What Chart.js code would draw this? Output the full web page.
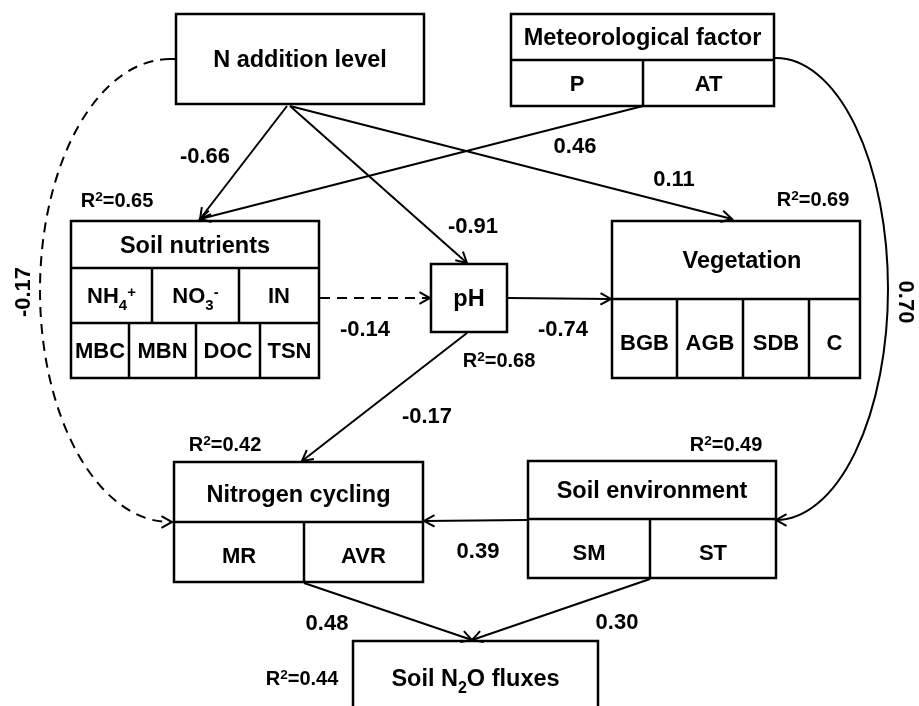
<!DOCTYPE html>
<html>
<head>
<meta charset="utf-8">
<title>Structural equation model of soil N2O fluxes</title>
<script src="https://cdn.jsdelivr.net/npm/chart.js@4.4.1/dist/chart.umd.min.js"></script>
<style>
  html, body { margin: 0; padding: 0; background: #ffffff; }
  canvas { display: block; }
</style>
</head>
<body>
<canvas id="sem" width="919" height="706"></canvas>
<script>
// ---- Model content -------------------------------------------------------
// "_x" marks a subscript character, "^x" a superscript character.
const nodeNames = [
  'N addition level',       // 0
  'Meteorological factor',  // 1
  'Soil nutrients',         // 2
  'pH',                     // 3
  'Vegetation',             // 4
  'Nitrogen cycling',       // 5
  'Soil environment',       // 6
  'Soil N_2O fluxes'        // 7
];

// Observed indicators of each latent variable, one list per row of cells
const nodeIndicators = [
  [],
  [['P', 'AT']],
  [['NH_4^+', 'NO_3^-', 'IN'], ['MBC', 'MBN', 'DOC', 'TSN']],
  [],
  [['BGB', 'AGB', 'SDB', 'C']],
  [['MR', 'AVR']],
  [['SM', 'ST']],
  []
];

// Explained variance of the endogenous variables
const rSquared = [null, null, 0.65, 0.68, 0.69, 0.42, 0.49, 0.44];

// Standardised path coefficients
const pathFrom = [0, 1, 0, 0, 2, 3, 3, 0, 1, 6, 5, 6];
const pathTo   = [2, 2, 4, 3, 3, 4, 5, 5, 6, 5, 7, 7];
const pathCoef = [-0.66, 0.46, 0.11, -0.91, -0.14, -0.74, -0.17, -0.17, 0.70, 0.39, 0.48, 0.30];
const pathSignificant = [true, true, true, true, false, true, true, false, true, true, true, true];

// ---- Diagram layout (in axis units) --------------------------------------
// rows: horizontal borders of the box; cols: vertical borders of each indicator row
const nodeLayout = [
  { x0: 176, x1: 424, rows: [14, 104] },
  { x0: 511, x1: 774, rows: [14, 60, 106], cols: [[511, 643, 774]] },
  { x0: 71,  x1: 319, rows: [221, 268, 323, 378], cols: [[71, 152, 239, 319], [71, 129, 196, 260, 319]] },
  { x0: 431, x1: 507, rows: [264, 332] },
  { x0: 612, x1: 860, rows: [221, 299, 378], cols: [[612, 677, 743, 809, 860]], headDx: 6, cellDy: 4 },
  { x0: 174, x1: 423, rows: [462, 522, 582], cols: [[174, 304, 423]], headDy: 2, cellDy: 3 },
  { x0: 528, x1: 776, rows: [461, 519, 578], cols: [[528, 650, 776]], cellDy: 4 },
  { x0: 353, x1: 598, rows: [641, 714] }
];

const r2Layout = [null, null, [117, 200], [499, 360], [813, 199], [225, 444], [726, 444], [302, 678]];

const pathLayout = [
  { from: [287, 106], to: [200, 219], label: [205, 155] },
  { from: [643, 106], to: [200, 219], label: [575, 145] },
  { from: [290, 106], to: [732, 219], label: [674, 178] },
  { from: [290, 106], to: [467, 263], label: [473, 225] },
  { from: [320, 298], to: [430, 298], label: [365, 328] },
  { from: [508, 298], to: [611, 299], label: [563, 328] },
  { from: [467, 333], to: [302, 461], label: [427, 415] },
  { ellipse: [170, 290.5, 130, 231.5], side: 'left', stub: 176, label: [22, 292], rotate: -90 },
  { ellipse: [776, 289, 112, 231], side: 'right', stub: 774, label: [907, 302], rotate: 90 },
  { from: [527, 520], to: [424, 521], label: [478, 550] },
  { from: [304, 583], to: [472, 640], label: [327, 622] },
  { from: [650, 579], to: [472, 640], label: [617, 621] }
];

// ---- Styling --------------------------------------------------------------
const INK = '#000000';
const FAMILY = '"Liberation Sans", Arial, Helvetica, sans-serif';
const HEAD_SIZE = 23.5, CELL_SIZE = 22, COEF_SIZE = 22, R2_SIZE = 20;
const DASH = [10, 7];

// ---- Helpers --------------------------------------------------------------
function parseRich(s) {
  const segs = [];
  for (let i = 0; i < s.length; i++) {
    const ch = s[i];
    if ((ch === '_' || ch === '^') && i + 1 < s.length) {
      segs.push({ t: s[i + 1], mode: ch });
      i++;
    } else {
      const last = segs[segs.length - 1];
      if (last && !last.mode) last.t += ch; else segs.push({ t: ch, mode: null });
    }
  }
  return segs;
}

// Centred text; (x, y) is the visual centre of the capital letters
function drawRich(ctx, s, x, y, size, weight) {
  const segs = parseRich(s);
  const small = size * 0.68;
  let total = 0;
  segs.forEach(seg => {
    ctx.font = `${weight} ${seg.mode ? small : size}px ${FAMILY}`;
    seg.w = ctx.measureText(seg.t).width;
    total += seg.w;
  });
  let cx = x - total / 2;
  const base = y + size * 0.36;
  ctx.textAlign = 'left';
  ctx.textBaseline = 'alphabetic';
  segs.forEach(seg => {
    ctx.font = `${weight} ${seg.mode ? small : size}px ${FAMILY}`;
    let dy = 0;
    if (seg.mode === '_') dy = size * 0.32;
    if (seg.mode === '^') dy = -size * 0.31;
    ctx.fillText(seg.t, cx, base + dy);
    cx += seg.w;
  });
}

function arrowHead(ctx, x, y, angle) {
  const len = 12, spread = 0.5;
  ctx.setLineDash([]);
  ctx.lineWidth = 2;
  ctx.beginPath();
  ctx.moveTo(x - len * Math.cos(angle - spread), y - len * Math.sin(angle - spread));
  ctx.lineTo(x, y);
  ctx.lineTo(x - len * Math.cos(angle + spread), y - len * Math.sin(angle + spread));
  ctx.stroke();
}

const fmtCoef = v => v.toFixed(2);
const fmtR2 = v => 'R^2=' + v.toFixed(2);

// ---- Datasets: straight paths are drawn as two-point lines ----------------
const datasets = [];
pathLayout.forEach((g, i) => {
  if (!g.from) return;
  datasets.push({
    label: nodeNames[pathFrom[i]] + ' \u2192 ' + nodeNames[pathTo[i]],
    data: [{ x: g.from[0], y: g.from[1] }, { x: g.to[0], y: g.to[1] }],
    showLine: true,
    borderColor: INK,
    borderWidth: 2,
    borderDash: pathSignificant[i] ? [] : DASH,
    pointRadius: 0,
    pointHoverRadius: 0,
    tension: 0,
    fill: false
  });
});

// ---- Plugin: boxes, curved paths, arrowheads and labels -------------------
const diagramPlugin = {
  id: 'semDiagram',
  afterDatasetsDraw(chart) {
    const ctx = chart.ctx;
    const sx = chart.scales.x, sy = chart.scales.y;
    const X = v => sx.getPixelForValue(v);
    const Y = v => sy.getPixelForValue(v);
    ctx.save();
    ctx.strokeStyle = INK;
    ctx.fillStyle = INK;
    ctx.lineJoin = 'miter';

    // paths: curves, arrowheads, coefficients
    pathLayout.forEach((g, i) => {
      if (g.ellipse) {
        const [cx, cy, rx, ry] = g.ellipse;
        const px = X(cx), py = Y(cy);
        const prx = Math.abs(X(cx + rx) - px), pry = Math.abs(Y(cy + ry) - py);
        ctx.lineWidth = 2;
        ctx.setLineDash([]);
        ctx.beginPath();
        ctx.moveTo(X(g.stub), py - pry);
        ctx.lineTo(px, py - pry);
        ctx.stroke();
        ctx.setLineDash(pathSignificant[i] ? [] : DASH);
        ctx.beginPath();
        ctx.ellipse(px, py, prx, pry, 0, -Math.PI / 2, Math.PI / 2, g.side === 'left');
        ctx.stroke();
        arrowHead(ctx, px + (g.side === 'left' ? 2 : 0), py + pry, g.side === 'left' ? 0 : Math.PI);
      } else {
        const a = Math.atan2(Y(g.to[1]) - Y(g.from[1]), X(g.to[0]) - X(g.from[0]));
        arrowHead(ctx, X(g.to[0]), Y(g.to[1]), a);
      }
      const lx = X(g.label[0]), ly = Y(g.label[1]);
      ctx.save();
      ctx.translate(lx, ly);
      if (g.rotate) ctx.rotate(g.rotate * Math.PI / 180);
      drawRich(ctx, fmtCoef(pathCoef[i]), 0, 0, COEF_SIZE, 'bold');
      ctx.restore();
    });

    // variable boxes
    ctx.setLineDash([]);
    nodeLayout.forEach((n, k) => {
      const x0 = X(n.x0), x1 = X(n.x1);
      const top = Y(n.rows[0]), bottom = Y(n.rows[n.rows.length - 1]);
      ctx.lineWidth = 2.5;
      ctx.strokeRect(x0, top, x1 - x0, bottom - top);
      for (let r = 1; r < n.rows.length - 1; r++) {
        ctx.beginPath();
        ctx.moveTo(x0, Y(n.rows[r]));
        ctx.lineTo(x1, Y(n.rows[r]));
        ctx.stroke();
      }
      // header
      const hy = (Y(n.rows[0]) + Y(n.rows[1])) / 2 + (n.headDy || 0);
      drawRich(ctx, nodeNames[k], (x0 + x1) / 2 + (n.headDx || 0), hy, HEAD_SIZE, 'bold');
      // indicator cells
      (nodeIndicators[k] || []).forEach((row, r) => {
        const cols = n.cols[r];
        const ry0 = Y(n.rows[r + 1]), ry1 = Y(n.rows[r + 2]);
        for (let c = 1; c < cols.length - 1; c++) {
          ctx.lineWidth = 2.5;
          ctx.beginPath();
          ctx.moveTo(X(cols[c]), ry0);
          ctx.lineTo(X(cols[c]), ry1);
          ctx.stroke();
        }
        row.forEach((name, c) => {
          const cx = (X(cols[c]) + X(cols[c + 1])) / 2;
          drawRich(ctx, name, cx, (ry0 + ry1) / 2 + (n.cellDy || 0), CELL_SIZE, 'bold');
        });
      });
      // explained variance
      if (rSquared[k] !== null) {
        const p = r2Layout[k];
        drawRich(ctx, fmtR2(rSquared[k]), X(p[0]), Y(p[1]), R2_SIZE, 'bold');
      }
    });
    ctx.restore();
  }
};

new Chart(document.getElementById('sem'), {
  type: 'scatter',
  data: { datasets },
  options: {
    responsive: false,
    animation: false,
    events: [],
    layout: { padding: 0 },
    plugins: { legend: { display: false }, tooltip: { enabled: false }, title: { display: false } },
    scales: {
      x: { type: 'linear', min: 0, max: 919, display: false },
      y: { type: 'linear', min: 0, max: 706, reverse: true, display: false }
    }
  },
  plugins: [diagramPlugin]
});
</script>
</body>
</html>
